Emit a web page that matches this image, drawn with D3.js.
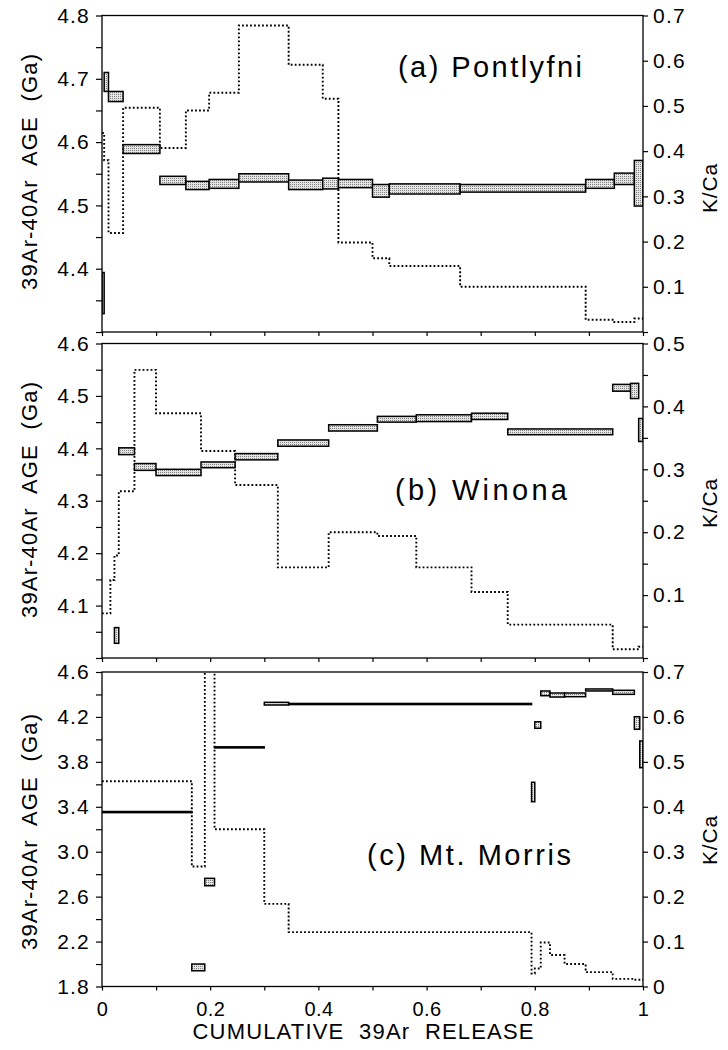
<!DOCTYPE html>
<html><head><meta charset="utf-8">
<script src="https://cdn.jsdelivr.net/npm/d3@7"></script>
<style>
html,body{margin:0;padding:0;background:#fff;}
text{font-family:"Liberation Sans",Arial,Helvetica,sans-serif;fill:#000;}
</style></head>
<body>
<svg id="chart" width="728" height="1050"></svg>
<script>
// ---------- DATA ----------
// x: cumulative 39Ar release fraction boundaries of each heating step
const stepsA = [0,0.004,0.012,0.039,0.107,0.155,0.198,0.253,0.345,0.408,0.437,0.500,0.531,0.662,0.894,0.947,0.984,1.0];
const ageLoA = [4.329,4.680,4.664,4.582,4.533,4.525,4.527,4.537,4.525,4.526,4.528,4.513,4.518,4.521,4.527,4.533,4.499];
const ageHiA = [4.394,4.710,4.680,4.596,4.546,4.538,4.541,4.550,4.540,4.543,4.541,4.533,4.534,4.533,4.541,4.551,4.571];
const kcaA   = [0.440,0.380,0.219,0.496,0.407,0.490,0.529,0.678,0.591,0.516,0.198,0.163,0.146,0.100,0.027,0.022,0.030];

const stepsB = [0,0.0155,0.023,0.031,0.060,0.0998,0.183,0.246,0.325,0.419,0.509,0.581,0.683,0.750,0.944,0.977,0.992,1.0];
const ageLoB = [null,null,4.028,4.388,4.358,4.348,4.363,4.378,4.404,4.433,4.450,4.451,4.455,4.426,4.509,4.495,4.413];
const ageHiB = [null,null,4.058,4.401,4.371,4.360,4.374,4.390,4.416,4.445,4.461,4.464,4.467,4.437,4.522,4.524,4.457];
const kcaB   = [0.071,0.124,0.163,0.265,0.458,0.389,0.329,0.275,0.144,0.200,0.194,0.144,0.105,0.053,0.014,0.014,0.018];

const stepsC = [0,0.166,0.190,0.208,0.300,0.345,0.794,0.800,0.811,0.828,0.855,0.894,0.944,0.984,0.994,1.0];
const ageLoC = [3.348,1.940,2.697,3.924,4.306,4.310,3.445,4.099,4.389,4.377,4.380,4.431,4.401,4.090,3.748];
const ageHiC = [3.358,2.000,2.763,3.934,4.330,4.320,3.618,4.157,4.431,4.413,4.413,4.449,4.437,4.202,3.986];
const kcaC   = [0.457,0.267,0.800,0.350,0.184,0.121,0.029,0.040,0.098,0.070,0.050,0.032,0.017,0.015,0.015];

// ---------- TICKS / LABELS ----------
const xTicks = [0,0.1,0.2,0.3,0.4,0.5,0.6,0.7,0.8,0.9,1.0];
const xLabels = [0,0.2,0.4,0.6,0.8,1.0];
const ageTicksA = [4.3,4.35,4.4,4.45,4.5,4.55,4.6,4.65,4.7,4.75,4.8];
const ageLabelsA = [4.4,4.5,4.6,4.7,4.8];
const ageTicksB = [4.0,4.05,4.1,4.15,4.2,4.25,4.3,4.35,4.4,4.45,4.5,4.55,4.6];
const ageLabelsB = [4.1,4.2,4.3,4.4,4.5,4.6];
const ageTicksC = [1.8,2.0,2.2,2.4,2.6,2.8,3.0,3.2,3.4,3.6,3.8,4.0,4.2,4.4,4.6];
const ageLabelsC = [1.8,2.2,2.6,3.0,3.4,3.8,4.2,4.6];
const kTicksA = [0,0.1,0.2,0.3,0.4,0.5,0.6,0.7];
const kLabelsA = [0.1,0.2,0.3,0.4,0.5,0.6,0.7];
const kTicksB = [0,0.05,0.1,0.15,0.2,0.25,0.3,0.35,0.4,0.45,0.5];
const kLabelsB = [0.1,0.2,0.3,0.4,0.5];
const kTicksC = [0,0.1,0.2,0.3,0.4,0.5,0.6,0.7];
const kLabelsC = [0,0.1,0.2,0.3,0.4,0.5,0.6,0.7];
const panelNames = ["(a) Pontlyfni","(b) Winona","(c) Mt. Morris"];
const yTitle = "39Ar-40Ar  AGE  (Ga)";
const kTitle = "K/Ca";
const xTitle = "CUMULATIVE  39Ar  RELEASE";

// ---------- LAYOUT ----------
const L = 102, R = 643;
const FONT = '"Liberation Sans",Arial,Helvetica,sans-serif';
const svg = d3.select("#chart");
const x = d3.scaleLinear().domain([0,1]).range([L,R]);

const defs = svg.append("defs");
const pat = defs.append("pattern").attr("id","stip").attr("patternUnits","userSpaceOnUse")
  .attr("width",2).attr("height",2);
pat.append("rect").attr("width",2).attr("height",2).attr("fill","#e4e4e4");
pat.append("rect").attr("width",1).attr("height",1).attr("fill","#808080");

const panels = [
  {id:"a", top:15.5, bottom:332, ageDom:[4.3,4.8], kMax:0.7, steps:stepsA, lo:ageLoA, hi:ageHiA, k:kcaA,
   aT:ageTicksA, aL:ageLabelsA, kT:kTicksA, kL:kLabelsA, name:panelNames[0], nx:398, ny:77, nw:184, ytc:172, ktc:188},
  {id:"b", top:343.5, bottom:658, ageDom:[4.0,4.6], kMax:0.5, steps:stepsB, lo:ageLoB, hi:ageHiB, k:kcaB,
   aT:ageTicksB, aL:ageLabelsB, kT:kTicksB, kL:kLabelsB, name:panelNames[1], nx:395, ny:500, nw:172, ytc:500, ktc:503},
  {id:"c", top:672, bottom:986.5, ageDom:[1.8,4.6], kMax:0.7, steps:stepsC, lo:ageLoC, hi:ageHiC, k:kcaC,
   aT:ageTicksC, aL:ageLabelsC, kT:kTicksC, kL:kLabelsC, name:panelNames[2], nx:367, ny:865, nw:204, ytc:832, ktc:840}
];

const has = (arr, v) => arr.some(a => Math.abs(a - v) < 1e-9);

panels.forEach((p, pi) => {
  const yA = d3.scaleLinear().domain(p.ageDom).range([p.bottom, p.top]);
  const yK = d3.scaleLinear().domain([0, p.kMax]).range([p.bottom, p.top]);
  const g = svg.append("g").attr("class","panel-"+p.id);

  defs.append("clipPath").attr("id","clip-"+p.id).append("rect")
    .attr("x",L).attr("y",p.top).attr("width",R-L).attr("height",p.bottom-p.top);

  const steps = p.steps.slice(0,-1).map((x0,i)=>({x0, x1:p.steps[i+1], lo:p.lo[i], hi:p.hi[i], k:p.k[i]}));

  // K/Ca dotted step line
  const pts = steps.map(d => [d.x0, d.k]);
  pts.push([1, steps[steps.length-1].k]);
  const line = d3.line().x(d => x(d[0])).y(d => yK(d[1])).curve(d3.curveStepAfter);
  g.append("path").attr("clip-path","url(#clip-"+p.id+")")
    .attr("d", line(pts)).attr("fill","none").attr("stroke","#000")
    .attr("stroke-width",1.9).attr("stroke-dasharray","1.8 2.2");

  // age boxes
  g.append("g").attr("clip-path","url(#clip-"+p.id+")")
    .selectAll("rect").data(steps.filter(d => d.lo != null)).join("rect")
    .attr("x", d => x(d.x0)).attr("width", d => Math.max(0.5, x(d.x1) - x(d.x0)))
    .attr("y", d => yA(d.hi)).attr("height", d => Math.max(0.5, yA(d.lo) - yA(d.hi)))
    .attr("fill","url(#stip)").attr("stroke","#000").attr("stroke-width",1.5);

  // frame
  g.append("rect").attr("x",L).attr("y",p.top).attr("width",R-L).attr("height",p.bottom-p.top)
    .attr("fill","none").attr("stroke","#000").attr("stroke-width",1.3);

  // left axis
  const fmt1 = d3.format(".1f");
  const la = g.append("g").attr("transform",`translate(${L},0)`)
    .call(d3.axisLeft(yA).tickValues(p.aT).tickSize(6).tickPadding(6)
      .tickFormat(d => has(p.aL,d) ? fmt1(d) : ""));
  // right axis
  const ra = g.append("g").attr("transform",`translate(${R},0)`)
    .call(d3.axisRight(yK).tickValues(p.kT).tickSize(5).tickPadding(5)
      .tickFormat(d => has(p.kL,d) ? (d===0 ? "0" : fmt1(d)) : ""));
  // bottom axis
  const ba = g.append("g").attr("transform",`translate(0,${p.bottom})`)
    .call(d3.axisBottom(x).tickValues(xTicks).tickSize(4).tickPadding(11)
      .tickFormat(d => (pi===2 && has(xLabels,d)) ? (d===0?"0":d===1?"1":fmt1(d)) : ""));
  [la,ra,ba].forEach(a => {
    a.select(".domain").remove();
    a.selectAll(".tick line").attr("stroke","#000").attr("stroke-width",1.2);
    a.selectAll("text").attr("font-family",FONT).attr("fill","#000");
  });
  la.selectAll("text").attr("font-size",21).attr("letter-spacing","1.2px");
  ra.selectAll("text").attr("font-size",21).attr("letter-spacing","1.2px");
  ba.selectAll("text").attr("font-size",20).attr("letter-spacing","0.4px");

  // panel name
  g.append("text").attr("x",p.nx).attr("y",p.ny).attr("font-size",29)
    .attr("textLength",p.nw).attr("lengthAdjust","spacing").text(p.name);

  // y titles
  g.append("text").attr("transform",`translate(37,${p.ytc}) rotate(-90)`)
    .attr("text-anchor","middle").attr("font-size",22).style("white-space","pre")
    .attr("textLength",236).attr("lengthAdjust","spacing").text(yTitle);
  g.append("text").attr("transform",`translate(717,${p.ktc}) rotate(-90)`)
    .attr("text-anchor","middle").attr("font-size",21).attr("letter-spacing","0.8px").text(kTitle);
});

// x title
svg.append("text").attr("x",363).attr("y",1039).attr("text-anchor","middle")
  .attr("font-size",22).style("white-space","pre").attr("textLength",341).attr("lengthAdjust","spacing")
  .text(xTitle);
</script>
</body></html>
